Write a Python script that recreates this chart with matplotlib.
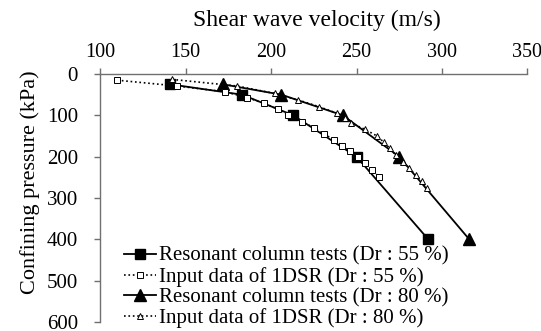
import matplotlib
matplotlib.use("Agg")
import matplotlib.pyplot as plt

plt.rcParams["font.family"] = "serif"
plt.rcParams["font.serif"] = ["Liberation Serif", "DejaVu Serif"]

# resonant column tests: shear wave velocity (m/s) vs confining pressure (kPa)
rc55_vs = [141, 183, 213, 250, 292]
rc55_p = [25, 50, 100, 200, 400]
rc80_vs = [172, 206, 242, 275, 316]
rc80_p = [25, 50, 100, 200, 400]

# profiles used as input for 1DSR
dsr55_vs = [110, 145, 173, 186, 196, 204, 210, 218, 225, 231, 237, 241.5, 246, 251, 255, 259, 263]
dsr55_p = [15, 29, 43, 57, 71, 85, 99, 115, 130, 145, 160, 173, 186, 200, 216, 232, 248]
dsr80_vs = [142, 180, 202, 216, 228, 238.5, 243, 247, 255, 262, 266, 269.5, 273, 277, 280.7, 284.6, 288.5, 291.5]
dsr80_p = [13, 29, 47, 63, 79, 95, 107, 119, 134, 150, 165, 180, 196, 212, 228, 244, 260, 277]

labels = ["Resonant column tests (Dr : 55 %)", "Input data of 1DSR (Dr : 55 %)",
          "Resonant column tests (Dr : 80 %)", "Input data of 1DSR (Dr : 80 %)"]

fig = plt.figure(figsize=(5.41, 3.31), dpi=100)
ax = fig.add_axes([0.1854, 0.0272, 0.7893, 0.7492])

ax.plot(rc55_vs, rc55_p, "-", color="black", lw=1.3, marker="s", ms=7,
        mfc="black", mec="black", label=labels[0], zorder=3)
ax.plot(dsr55_vs, dsr55_p, ":", color="black", lw=1.2, marker="s", ms=4,
        mfc="white", mec="black", mew=0.7, label=labels[1], zorder=4)
ax.plot(rc80_vs, rc80_p, "-", color="black", lw=1.3, marker="^", ms=8,
        mfc="black", mec="black", label=labels[2], zorder=3)
ax.plot(dsr80_vs, dsr80_p, ":", color="black", lw=1.2, marker="^", ms=4.5,
        mfc="white", mec="black", mew=0.7, label=labels[3], zorder=4)

ax.set_xlim(100, 350)
ax.set_ylim(600, 0)
ax.set_xticks([100, 150, 200, 250, 300, 350])
ax.set_yticks([0, 100, 200, 300, 400, 500, 600])

ax.xaxis.tick_top()
ax.xaxis.set_label_position("top")
ax.spines["right"].set_visible(False)
ax.spines["bottom"].set_visible(False)
for s in ("top", "left"):
    ax.spines[s].set_color("#707070")
    ax.spines[s].set_linewidth(1.0)
ax.tick_params(axis="x", direction="out", length=4, width=1.0, color="#707070",
               labelsize=14.5, pad=5)
ax.tick_params(axis="y", direction="out", length=4, width=1.0, color="#707070",
               labelsize=15, pad=12)

ax.set_xlabel("Shear wave velocity (m/s)", fontsize=17)
ax.xaxis.set_label_coords(0.507, 1.1935)
ax.set_ylabel("Confining pressure (kPa)", fontsize=16)
ax.yaxis.set_label_coords(-0.141, 0.565)

ax.legend(loc="upper left", bbox_to_anchor=(0.055, 0.305), frameon=False,
          fontsize=15, handlelength=1.54, handletextpad=0.15,
          labelspacing=0.05, borderpad=0, borderaxespad=0)

fig.savefig("out.png", dpi=100)
